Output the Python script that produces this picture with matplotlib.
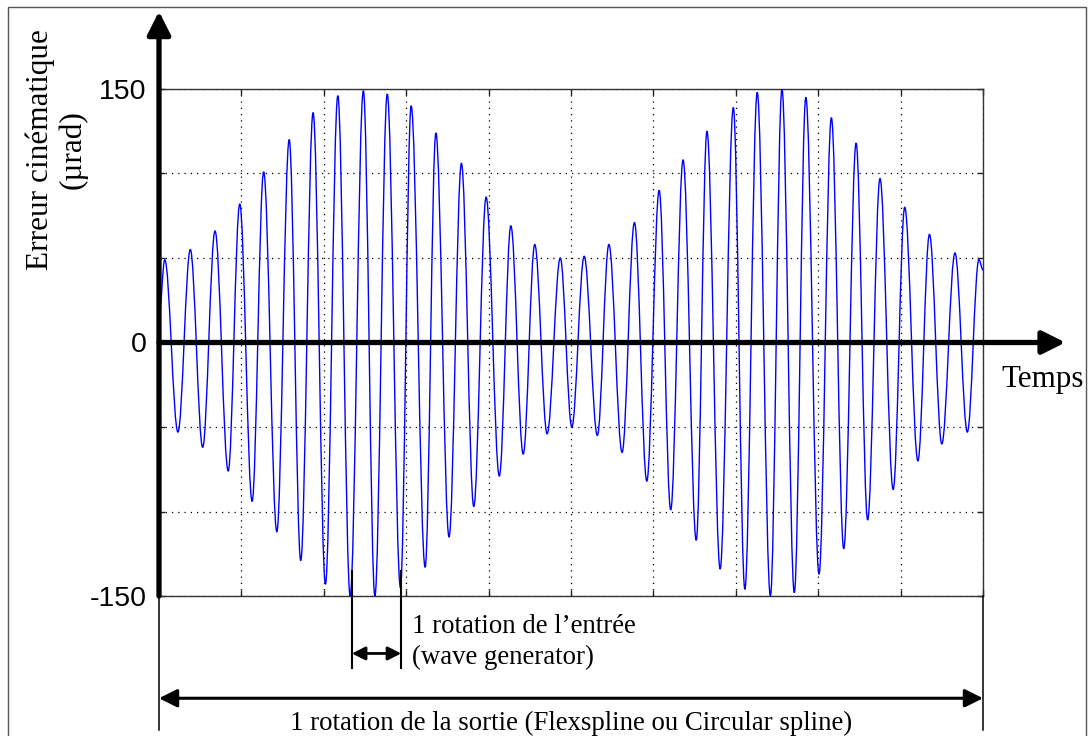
import numpy as np
import matplotlib
matplotlib.use("Agg")
import matplotlib.pyplot as plt
from matplotlib.path import Path
from matplotlib.patches import PathPatch

# Extrema of the kinematic error
# time in grid divisions (0..10), error in microradians
peak_t = [0.07, 0.38, 0.68, 0.98, 1.27, 1.58, 1.87, 2.17, 2.48, 2.77,
          3.06, 3.36, 3.67, 3.97, 4.27, 4.56, 4.87, 5.16, 5.46, 5.77,
          6.07, 6.36, 6.65, 6.97, 7.26, 7.56, 7.85, 8.16, 8.46, 8.75,
          9.05, 9.35, 9.66, 9.95]
peak_v = [49, 55, 66, 82, 101, 120, 136, 146, 149, 147,
          140, 124, 106, 86, 69, 58, 50, 51, 58, 71,
          90, 108, 125, 139, 148, 150, 145, 133, 118, 97,
          80, 64, 53, 49]
trough_t = [0.23, 0.53, 0.84, 1.13, 1.43, 1.72, 2.02, 2.32, 2.62, 2.93,
            3.23, 3.52, 3.82, 4.13, 4.42, 4.71, 5.01, 5.32, 5.62, 5.92,
            6.21, 6.52, 6.81, 7.11, 7.42, 7.71, 8.01, 8.31, 8.60, 8.91,
            9.21, 9.50, 9.81]
trough_v = [-53, -62, -76, -94, -112, -129, -143, -150, -150, -145,
            -133, -115, -97, -79, -66, -54, -50, -55, -65, -82,
            -99, -117, -134, -146, -150, -148, -137, -122, -105, -87,
            -70, -60, -53]
start_t, start_v = 0.0, 15
end_t, end_v = 10.0, 43

# one rotation of the wave generator, marked under the curve
rot_in = [2.34, 2.94]

yticks = [-150, -100, -50, 0, 50, 100, 150]
ytick_labels = ['-150', '', '', '0', '', '', '150']

t = np.concatenate([[start_t], peak_t, trough_t, [end_t]])
v = np.concatenate([[start_v], peak_v, trough_v, [end_v]])
order = np.argsort(t)
t = t[order]
v = v[order]

serif = 'Liberation Serif'
sans = 'Liberation Sans'

fig = plt.figure(figsize=(10.91, 7.36), dpi=100)
ax = fig.add_axes([159 / 1091, 140 / 736, 824 / 1091, 507 / 736])

# curve through the extrema: each half-wave drawn as a bezier with flat ends
verts = [(t[0], v[0])]
codes = [Path.MOVETO]
for i in range(len(t) - 1):
    dt = t[i + 1] - t[i]
    verts += [(t[i] + 0.36 * dt, v[i]), (t[i + 1] - 0.36 * dt, v[i + 1]),
              (t[i + 1], v[i + 1])]
    codes += [Path.CURVE4] * 3
ax.add_patch(PathPatch(Path(verts, codes), fill=False, edgecolor='#0000ff',
                       lw=1.0, zorder=3))

ax.set_xlim(0, 10)
ax.set_ylim(-150, 150)
ax.set_xticks(range(11))
ax.set_xticklabels([])
ax.set_yticks(yticks)
ax.set_yticklabels(ytick_labels, fontfamily=sans, fontsize=20.5)
ax.tick_params(direction='in', length=4, width=1, color='#222222',
               top=True, right=True, pad=9)
ax.grid(True, color='black', linestyle=(0, (1, 4)), linewidth=0.9)
for s in ax.spines.values():
    s.set_color('#333333')
    s.set_linewidth(1.0)

# thick axes arrows
ax.annotate('', xy=(0, 196), xytext=(0, -150), xycoords='data',
            arrowprops=dict(arrowstyle='-|>,head_length=14,head_width=7',
                            mutation_scale=1, lw=3.8, color='black',
                            shrinkA=0, shrinkB=0),
            annotation_clip=False, zorder=5)
ax.annotate('', xy=(11.0, 0), xytext=(0, 0), xycoords='data',
            arrowprops=dict(arrowstyle='-|>,head_length=14,head_width=7',
                            mutation_scale=1, lw=3.8, color='black',
                            shrinkA=0, shrinkB=0),
            annotation_clip=False, zorder=5)

# output rotation span
for x in (0, 10):
    ax.plot([x, x], [-150, -229], color='black', lw=1.1, clip_on=False, zorder=4)
ax.annotate('', xy=(10, -210.5), xytext=(0, -210.5), xycoords='data',
            arrowprops=dict(arrowstyle='<|-|>,head_length=11,head_width=5.5',
                            mutation_scale=1, lw=2.2, color='black',
                            shrinkA=0, shrinkB=0),
            annotation_clip=False)
ax.text(5, -229.3, '1 rotation de la sortie (Flexspline ou Circular spline)',
        ha='center', va='baseline', fontfamily=serif, fontsize=19.3)

# input rotation span
for x in rot_in:
    ax.plot([x, x], [-135, -192.5], color='black', lw=1.5, clip_on=False, zorder=4)
ax.annotate('', xy=(rot_in[1], -184), xytext=(rot_in[0], -184), xycoords='data',
            arrowprops=dict(arrowstyle='<|-|>,head_length=8,head_width=4',
                            mutation_scale=1, lw=2.0, color='black',
                            shrinkA=0, shrinkB=0),
            annotation_clip=False)
ax.text(3.07, -172, '1 rotation de l\u2019entr\u00e9e', ha='left', va='baseline',
        fontfamily=serif, fontsize=19.3)
ax.text(3.07, -190, '(wave generator)', ha='left', va='baseline',
        fontfamily=serif, fontsize=19.3)

ax.text(10.22, -26.3, 'Temps', ha='left', va='baseline',
        fontfamily=serif, fontsize=22.3)
ax.text(-1.24, 114, 'Erreur cin\u00e9matique\n(\u00b5rad)', ha='center', va='center',
        rotation=90, multialignment='center', linespacing=1.15,
        fontfamily=serif, fontsize=22.5)

# outer frame
fig.add_artist(plt.Rectangle((8 / 1091, -0.01), 1078 / 1091, 729 / 736 + 0.01,
                             transform=fig.transFigure, fill=False,
                             edgecolor='#555555', lw=1.0))

fig.savefig('out.png', dpi=100)
